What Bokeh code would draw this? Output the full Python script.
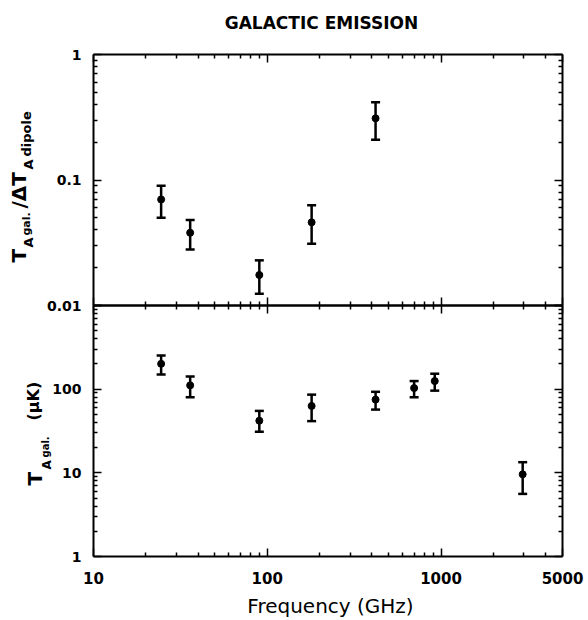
import math
from bokeh.plotting import figure
from bokeh.models import (FixedTicker, Whisker, TeeHead, ColumnDataSource, Label,
                          Range1d, LogAxis, LogScale)
from bokeh.embed import file_html
from bokeh.resources import INLINE

# ---------------- data ----------------
freq_top = [24.5, 36, 90, 180, 420]
ratio = [0.070, 0.038, 0.0175, 0.046, 0.31]
ratio_lo = [0.050, 0.028, 0.0124, 0.031, 0.209]
ratio_hi = [0.090, 0.048, 0.0229, 0.063, 0.417]

freq_bot = [24.5, 36, 90, 180, 420, 700, 920, 2950]
temp = [201, 111, 42, 63, 75, 103, 125, 9.6]
temp_lo = [150, 80, 31, 41.5, 57, 80, 96, 5.6]
temp_hi = [253, 142, 55, 86, 93, 125, 153, 13.4]

x_lim = (10, 5000)
top_lim = (0.01, 1)
bot_lim = (1, 1000)
x_ticks = [10, 100, 1000, 5000]
x_tick_labels = ["10", "100", "1000", "5000"]
top_y_ticks = [0.01, 0.1, 1]
top_y_labels = ["0.01", "0.1", "1"]
bot_y_ticks = [1, 10, 100, 1000]
bot_y_labels = ["1", "10", "100", ""]

title_text = "GALACTIC EMISSION"
x_title = "Frequency (GHz)"

FONT = "DejaVu Sans"

# ---------------- geometry (canvas pixels) ----------------
W, H = 588, 620
BOX_L, BOX_R = 93, 562
BOX_T, BOX_M, BOX_B = 54, 305, 556


def log_range(lo, hi, px_lo, px_hi, pad_lo, pad_hi):
    a, b = math.log10(lo), math.log10(hi)
    s = (px_hi - px_lo) / (b - a)
    return Range1d(10 ** (a - pad_lo / s), 10 ** (b + pad_hi / s))


x_range = log_range(*x_lim, BOX_L, BOX_R, BOX_L, W - BOX_R)
bot_range = log_range(*bot_lim, BOX_M, BOX_B, H - BOX_B, BOX_M)
top_range = log_range(*top_lim, BOX_T, BOX_M, H - BOX_M, BOX_T)


def minors(lo, hi):
    out = []
    e = math.floor(math.log10(lo))
    while 10 ** e < hi:
        for m in range(2, 10):
            v = m * 10.0 ** e
            if lo < v < hi:
                out.append(v)
        e += 1
    return out


p = figure(width=W, height=H, x_axis_type="log", y_axis_type="log",
           x_range=x_range, y_range=bot_range,
           x_axis_location=None, y_axis_location=None,
           output_backend="svg", toolbar_location=None,
           min_border_left=0, min_border_right=0, min_border_top=0, min_border_bottom=0)
p.extra_y_ranges = {"top": top_range}
p.extra_y_scales = {"top": LogScale()}
p.grid.visible = False
p.outline_line_color = None
p.background_fill_color = "white"
p.border_fill_color = "white"


def add_axis(side, loc, bounds, ticks, labels, show, range_name="default", size="14px",
             standoff=12):
    ax = LogAxis(fixed_location=loc, bounds=bounds, y_range_name=range_name)
    ax.ticker = FixedTicker(ticks=ticks, minor_ticks=minors(*bounds))
    ax.major_label_overrides = {t: (l if show else "") for t, l in zip(ticks, labels)}
    ax.major_tick_in = 8
    ax.major_tick_out = 0
    ax.minor_tick_in = 4
    ax.minor_tick_out = 0
    ax.major_tick_line_width = 1.5
    ax.minor_tick_line_width = 1.5
    ax.axis_line_width = 2
    ax.major_label_text_font = FONT
    ax.major_label_text_font_style = "bold"
    ax.major_label_text_font_size = size
    ax.major_label_text_color = "black"
    ax.major_label_standoff = standoff
    p.add_layout(ax, side)
    return ax


# upper panel box
add_axis("left", x_lim[0], top_lim, top_y_ticks, top_y_labels, True, "top")
add_axis("right", x_lim[1], top_lim, top_y_ticks, top_y_labels, False, "top")
add_axis("above", top_lim[1], x_lim, x_ticks, x_tick_labels, False, "top")
add_axis("below", top_lim[0], x_lim, x_ticks, x_tick_labels, False, "top")
# lower panel box
add_axis("left", x_lim[0], bot_lim, bot_y_ticks, bot_y_labels, True)
add_axis("right", x_lim[1], bot_lim, bot_y_ticks, bot_y_labels, False)
add_axis("above", bot_lim[1], x_lim, x_ticks, x_tick_labels, False)
add_axis("below", bot_lim[0], x_lim, x_ticks, x_tick_labels, True, size="15px", standoff=15)


def error_points(src, range_name):
    head = dict(size=9, line_width=2.5, line_color="black")
    p.add_layout(Whisker(base="x", lower="lo", upper="hi", source=src,
                         dimension="height", line_width=2.5, line_color="black",
                         y_range_name=range_name,
                         upper_head=TeeHead(**head), lower_head=TeeHead(**head)))
    p.scatter("x", "y", source=src, size=7, color="black", y_range_name=range_name)


error_points(ColumnDataSource(dict(x=freq_top, y=ratio, lo=ratio_lo, hi=ratio_hi)), "top")
error_points(ColumnDataSource(dict(x=freq_bot, y=temp, lo=temp_lo, hi=temp_hi)), "default")


# ---------------- texts (screen units from page coordinates; y = text centre) ----------------
def text(px_, py_, t, size, bold=True, align="left", angle=0.0):
    p.add_layout(Label(x=px_, y=H - py_, x_units="screen", y_units="screen",
                       text=t, text_font=FONT, text_font_size=size,
                       text_font_style="bold" if bold else "normal",
                       text_align=align, text_baseline="middle", angle=angle,
                       text_color="black"))


V = math.pi / 2
text(321, 22, title_text, "17px", align="center")
text(330, 605, x_title, "20px", bold=False, align="center")

# upper y label: T_A gal. / ΔT_A dipole   (rotated: centre x, start y)
text(18, 262, "T", "20px", angle=V)
text(28, 247, "A", "13px", angle=V)
text(26, 235, "gal.", "11px", angle=V)
text(18, 208, "/ΔT", "20px", angle=V)
text(28, 169, "A", "13px", angle=V)
text(26, 156, "dipole", "13px", angle=V)

# lower y label: T_A gal. (μK)
text(34, 485, "T", "20px", angle=V)
text(46, 469, "A", "12px", angle=V)
text(45, 457, "gal.", "10px", angle=V)
text(33, 420, "(μK)", "16px", angle=V)

open("out.html", "w").write(file_html(p, INLINE))
